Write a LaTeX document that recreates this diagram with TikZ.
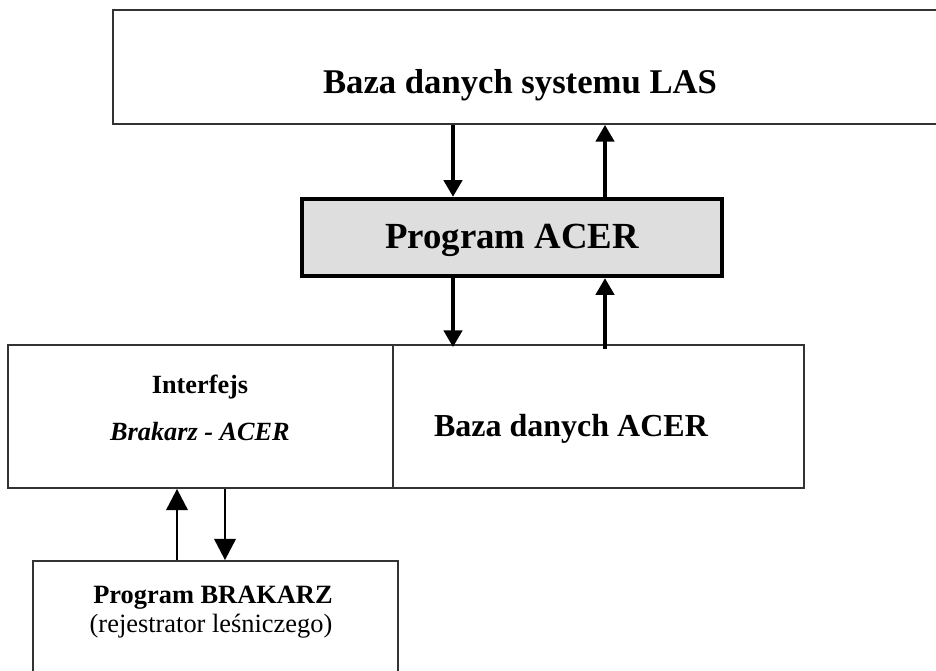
\documentclass[tikz,border=0pt]{standalone}
\usepackage{fontspec}
\setmainfont{Liberation Serif}
\usetikzlibrary{arrows.meta,calc}
\begin{document}
\begin{tikzpicture}[x=0.75pt,y=-0.75pt,
  box/.style={draw=black!80,line width=1.3pt,rectangle,inner sep=0pt},
  acerbox/.style={draw=black,line width=3.2pt,fill=black!13,rectangle,inner sep=0pt},
  lbl/.style={anchor=base,inner sep=0pt,font=\bfseries},
  arrbig/.style={line width=3pt,-{Triangle[length=12.5pt,width=13.5pt]}},
  arrsmall/.style={line width=2.2pt,-{Triangle[length=16pt,width=16pt]}}]
\clip (0,0) rectangle (936,671);
\fill[white] (0,0) rectangle (936,671);
% boxes
\node[box,minimum width=867*0.75pt,minimum height=114*0.75pt] (las) at (546.5,67) {};
\node[box,minimum width=385*0.75pt,minimum height=143*0.75pt] (intf) at (200.5,416.5) {};
\node[box,minimum width=411*0.75pt,minimum height=143*0.75pt] (bacer) at (598.5,416.5) {};
\node[box,minimum width=365*0.75pt,minimum height=160*0.75pt] (brak) at (215.5,641) {};
\node[acerbox,minimum width=420*0.75pt,minimum height=77*0.75pt] (acer) at (512,237.5) {};
% texts
\node[lbl,font=\bfseries\fontsize{26}{30}\selectfont] (tlas) at (520,93) {Baza danych systemu LAS};
\node[lbl,font=\bfseries\fontsize{27.6}{32}\selectfont] (tacer) at (512,248) {Program ACER};
\node[lbl,font=\bfseries\fontsize{19.7}{23}\selectfont] (tint) at (200,393) {Interfejs};
\node[lbl,font=\bfseries\itshape\fontsize{19.7}{23}\selectfont] (tbra) at (200,440) {Brakarz - ACER};
\node[lbl,font=\bfseries\fontsize{24}{28}\selectfont] (tbacer) at (571,436) {Baza danych ACER};
\node[lbl,font=\bfseries\fontsize{19.8}{23}\selectfont] (tprog) at (213,603) {Program BRAKARZ};
\node[lbl,font=\fontsize{19.8}{23}\selectfont] (trej) at (211,632) {(rejestrator leśniczego)};
% arrow columns
\coordinate (xd) at (453,0);
\coordinate (xu) at (605,0);
\coordinate (xbu) at (177,0);
\coordinate (xbd) at (225,0);
\draw[arrbig] (las.south -| xd) -- (acer.north -| xd);
\draw[arrbig] (acer.north -| xu) -- (las.south -| xu);
\draw[arrbig] (acer.south -| xd) -- ($(bacer.north -| xd)+(0,3)$);
\draw[arrbig] ($(bacer.north -| xu)+(0,5)$) -- (acer.south -| xu);
\draw[arrsmall] (brak.north -| xbu) -- (intf.south -| xbu);
\draw[arrsmall] (intf.south -| xbd) -- (brak.north -| xbd);
\end{tikzpicture}
\end{document}
